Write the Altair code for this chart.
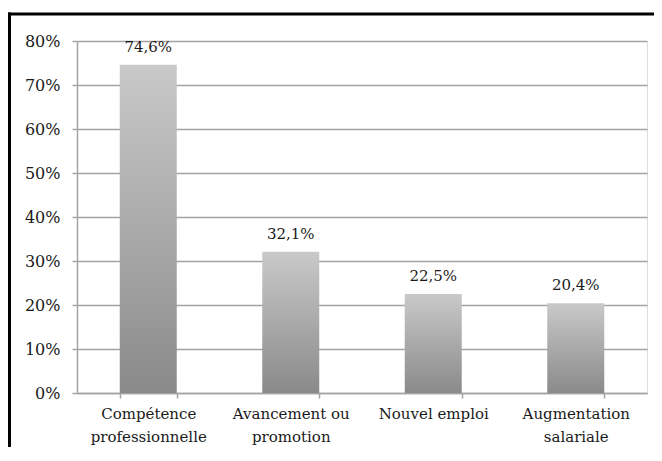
import altair as alt
import pandas as pd

categories = ["Compétence|professionnelle", "Avancement ou|promotion", "Nouvel emploi", "Augmentation|salariale"]
values = [74.6, 32.1, 22.5, 20.4]
y_ticks = [0, 0.1, 0.2, 0.3, 0.4, 0.5, 0.6, 0.7, 0.8]

df = pd.DataFrame({
    "cat": categories,
    "val": [v / 100 for v in values],
    "label": [f"{v:.1f}".replace(".", ",") + "%" for v in values],
})

FONT = "DejaVu Serif"
TXT = "#1a1a1a"
GRID = "#a3a3a3"

x_enc = alt.X("cat:N", sort=categories, title=None,
              scale=alt.Scale(paddingInner=0.6, paddingOuter=0.3),
              axis=alt.Axis(labelAngle=0,
                            labelExpr="datum.value ? split(datum.value, '|') : ''",
                            tickBand="extent", domainColor=GRID, tickColor=GRID,
                            domainWidth=1.5, tickWidth=1.5, tickSize=5,
                            labelFont=FONT, labelFontSize=15, labelColor=TXT,
                            labelPadding=8, labelLineHeight=23, grid=False))
y_enc = alt.Y("val:Q", title=None,
              scale=alt.Scale(domain=[0, 0.8], nice=False),
              axis=alt.Axis(values=y_ticks, format=".0%", grid=True, gridColor=GRID,
                            gridWidth=1.5, domainColor=GRID, tickColor=GRID,
                            domainWidth=1.5, tickWidth=1.5, tickSize=5,
                            labelFont=FONT, labelFontSize=16, labelColor=TXT,
                            labelPadding=12))

bars = alt.Chart(df).mark_bar(
    color=alt.Gradient(gradient="linear", x1=0, y1=0, x2=0, y2=1,
                       stops=[alt.GradientStop(color="#c9c9c9", offset=0),
                              alt.GradientStop(color="#8a8a8a", offset=1)])
).encode(x=x_enc, y=y_enc)

text = alt.Chart(df).mark_text(font=FONT, fontSize=15, color=TXT, baseline="alphabetic", dy=-13).encode(
    x=alt.X("cat:N", sort=categories), y="val:Q", text="label:N")

one = pd.DataFrame({"a": [0]})
frame_top = alt.Chart(one).mark_rule(color="black", strokeWidth=3).encode(
    x=alt.value(-69), x2=alt.value(577), y=alt.value(-27))
frame_left = alt.Chart(one).mark_rule(color="black", strokeWidth=3).encode(
    x=alt.value(-67.5), y=alt.value(-28.5), y2=alt.value(406))

chart = alt.layer(bars, text, frame_top, frame_left).properties(
    width=570, height=352,
    padding={"left": 69, "top": 33, "right": 7, "bottom": 54},
    autosize=alt.AutoSizeParams(type="none"),
).configure_view(stroke=None).configure(background="white")

chart.save("out.html", embed_options={"renderer": "svg", "actions": False})
